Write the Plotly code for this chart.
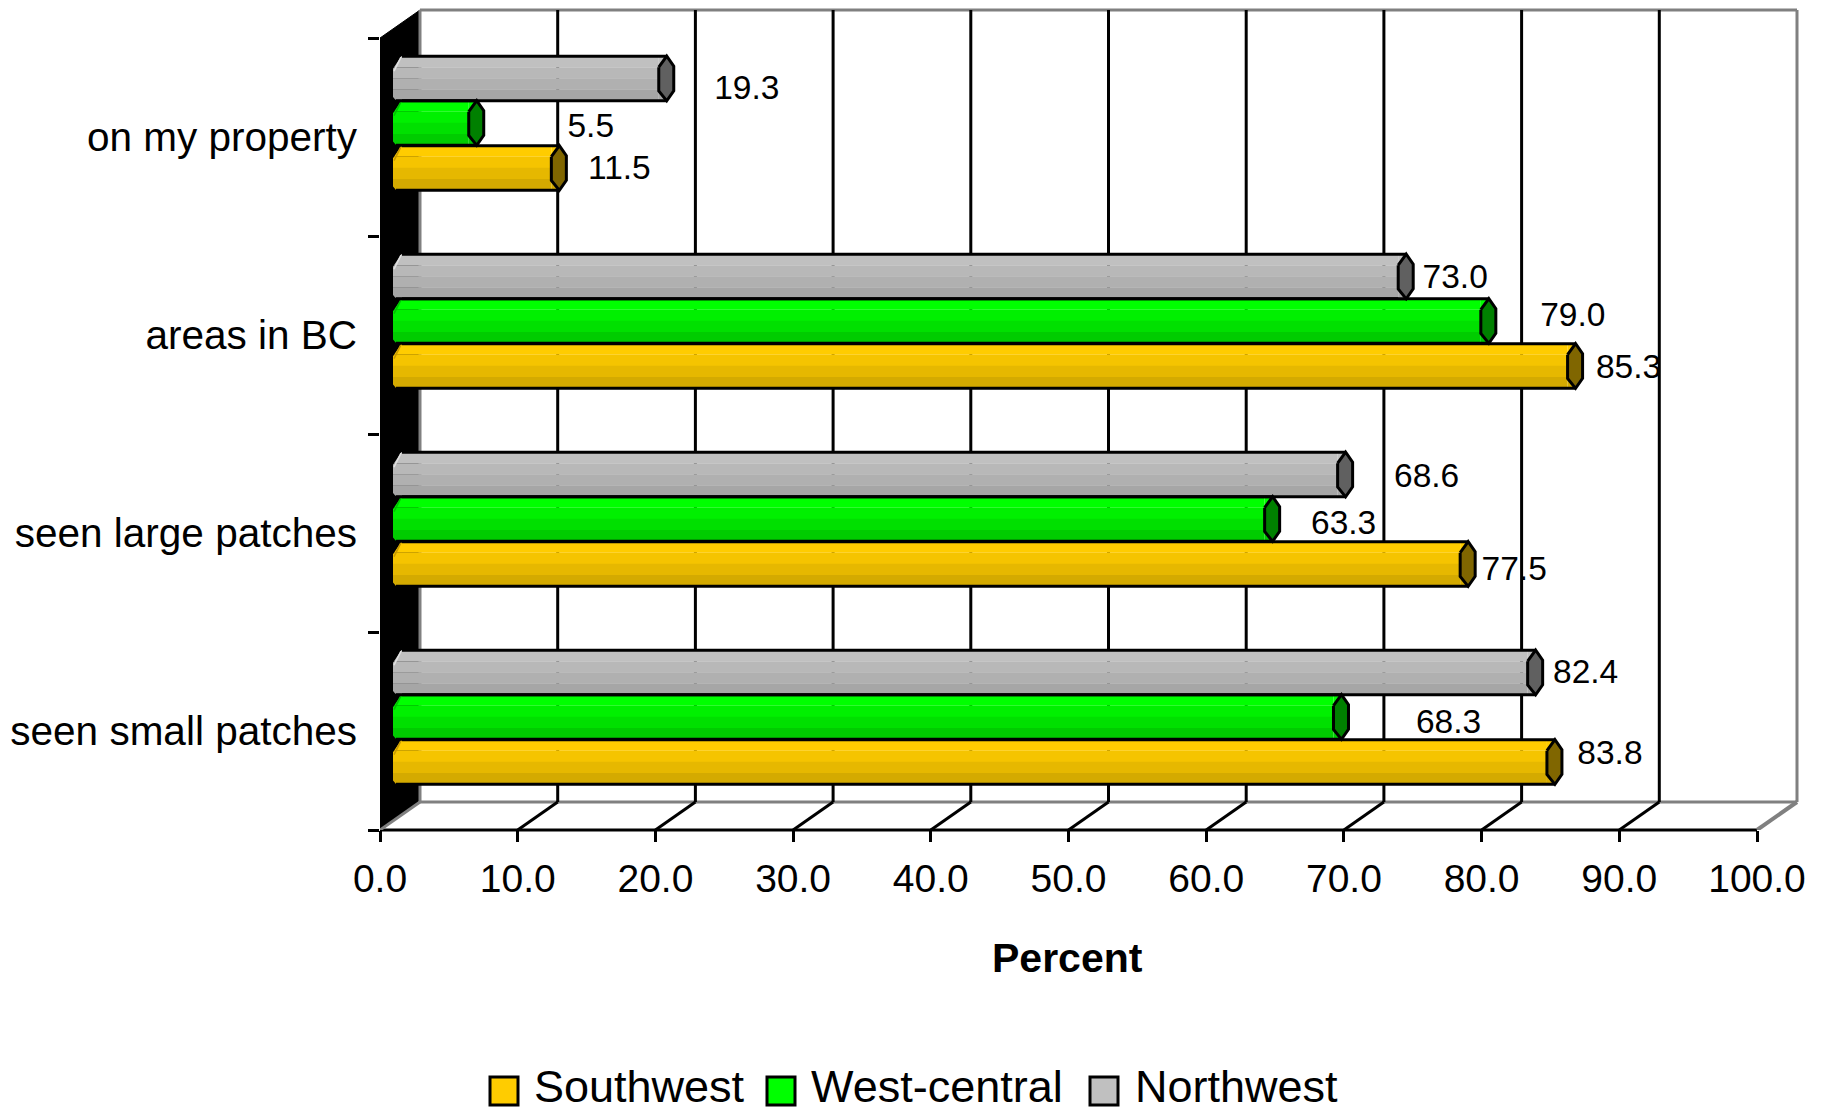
import plotly.graph_objects as go

categories = ["seen small patches", "seen large patches", "areas in BC", "on my property"]
southwest = [83.8, 77.5, 85.3, 11.5]
west_central = [68.3, 63.3, 79.0, 5.5]
northwest = [82.4, 68.6, 73.0, 19.3]
series_names = ["Southwest", "West-central", "Northwest"]

positions = list(range(len(categories)))
series_values = [southwest, west_central, northwest]

# ---- pixel geometry of the pseudo-3D frame ----
W, H = 1825, 1113
L, R, T, B = 380, 1803, 4, 830       # plot area in px (a little wider than the wall)
PX_PER_X = 13.77                     # px per percent
PX_PER_Y = 198.0                     # px per category
DEPTH_X, DEPTH_Y = 40, 28            # back wall offset
BAR_BASE_PX = 13
BAR_H_PX = 44.7
x_max = (R - L) / PX_PER_X
y_min, y_max = -0.5, -0.5 + (B - T) / PX_PER_Y
wall_top = 3.5 + DEPTH_Y / PX_PER_Y


def ux(px):
    return px / PX_PER_X


def uy(px):
    return px / PX_PER_Y


def paper_x(px):
    return (px - L) / (R - L)


def paper_y(px):
    return (B - px) / (B - T)


bx, by = ux(DEPTH_X), uy(DEPTH_Y)
base = ux(BAR_BASE_PX)

row_shift_px = [-31, 14, 58.5]       # bar centre above the category centre
stripes = [
    ["#FFCC00", "#F5C400", "#E6B800", "#D4AA00"],
    ["#00FF00", "#00F000", "#00E000", "#00CC00"],
    ["#C0C0C0", "#B8B8B8", "#B0B0B0", "#A6A6A6"],
]
cap_colors = ["#806600", "#008000", "#606060"]
edge_colors = ["#C89A00", "#00C000", "#E0E0E0"]
label_dx = [[63, 54, 61, 68], [115, 79, 92, 122], [58, 89, 57, 88]]
label_dy = [[6, -8, -4, -3], [-8, -7, 3, -6], [-2, -4, -3, -12]]

shapes = []


def seg(x0, y0, x1, y1, color, width):
    shapes.append(dict(type="line", xref="x", yref="y", x0=x0, y0=y0, x1=x1, y1=y1,
                       line=dict(color=color, width=width), layer="below"))


# left black wall
shapes.append(dict(type="path", xref="x", yref="y", layer="below",
                   path=f"M 0 {y_min} L {bx} {y_min + by} L {bx} {wall_top} L 0 {y_min + 4} Z",
                   fillcolor="#000000", line=dict(color="#000000", width=1)))
# back wall frame
seg(bx, y_min + by, bx, wall_top, "#808080", 3)
seg(bx, wall_top, 100 + bx, wall_top, "#808080", 3)
seg(100 + bx, wall_top, 100 + bx, y_min + by, "#808080", 3)
seg(bx, y_min + by, 100 + bx, y_min + by, "#808080", 3)
# grid + floor lines
for v in range(10, 100, 10):
    seg(v + bx, y_min + by, v + bx, wall_top, "#000000", 3)
    seg(v, y_min, v + bx, y_min + by, "#000000", 3)
seg(0, y_min, bx, y_min + by, "#808080", 3)
seg(100, y_min, 100 + bx, y_min + by, "#808080", 4)
# front axis line, not clipped by the plot area
shapes.append(dict(type="line", xref="paper", yref="paper", layer="below",
                   x0=paper_x(L), x1=paper_x(L + 100 * PX_PER_X), y0=0, y1=0,
                   line=dict(color="#000000", width=3)))

fig = go.Figure()

# striped bar bodies
for s, values in enumerate(series_values):
    n = len(stripes[s])
    for k, col in enumerate(stripes[s]):
        top_px = row_shift_px[s] + BAR_H_PX / 2 - k * BAR_H_PX / n
        fig.add_trace(go.Bar(
            orientation="h", y=positions, x=values, base=base,
            offset=uy(top_px - BAR_H_PX / n), width=uy(BAR_H_PX / n) + 0.001,
            marker=dict(color=col, line=dict(width=0)),
            showlegend=False, hoverinfo="skip"))

# caps, shoulders and outlines
for s, values in enumerate(series_values):
    sh_t_x, sh_t_y, sh_b_x, sh_b_y = [], [], [], []
    cap_x, cap_y = [], []
    out_x, out_y = [], []
    cut_x, cut_y = [], []
    edge_x, edge_y = [], []
    for p, v in zip(positions, values):
        end = base + v
        c = p + uy(row_shift_px[s])
        top, bot = c + uy(BAR_H_PX / 2), c - uy(BAR_H_PX / 2)
        sh_t_x += [end, end + ux(8), end, None]
        sh_t_y += [top, top, top - uy(11), None]
        sh_b_x += [end, end + ux(8), end, None]
        sh_b_y += [bot, bot, bot + uy(10), None]
        cap_x += [end, end + ux(8), end + ux(15), end + ux(15), end + ux(8), end, end, None]
        cap_y += [top - uy(11), top, top - uy(10), bot + uy(10), bot, bot + uy(10), top - uy(11), None]
        out_x += [base + ux(9), end + ux(8), None, base + ux(3), end + ux(8), None]
        out_y += [top, top, None, bot, bot, None]
        cut_x += [base - ux(1), base + ux(9), base - ux(1), None,
                  base - ux(1), base + ux(4), base - ux(1), None]
        cut_y += [top + uy(1), top + uy(1), top - uy(14), None,
                  bot - uy(1), bot - uy(1), bot + uy(5), None]
        edge_x += [base + ux(1), base + ux(8), None]
        edge_y += [top - uy(15), top - uy(1), None]
    common = dict(mode="lines", showlegend=False, hoverinfo="skip")
    fig.add_trace(go.Scatter(x=sh_t_x, y=sh_t_y, fill="toself", fillcolor=stripes[s][0],
                             line=dict(width=0), **common))
    fig.add_trace(go.Scatter(x=sh_b_x, y=sh_b_y, fill="toself", fillcolor=stripes[s][-1],
                             line=dict(width=0), **common))
    fig.add_trace(go.Scatter(x=cut_x, y=cut_y, fill="toself", fillcolor="#000000",
                             line=dict(width=0), **common))
    fig.add_trace(go.Scatter(x=edge_x, y=edge_y, line=dict(color=edge_colors[s], width=1.5), **common))
    fig.add_trace(go.Scatter(x=out_x, y=out_y, line=dict(color="#000000", width=3), **common))
    fig.add_trace(go.Scatter(x=cap_x, y=cap_y, fill="toself", fillcolor=cap_colors[s],
                             line=dict(color="#000000", width=3), **common))

# value labels
for s, values in enumerate(series_values):
    fig.add_trace(go.Scatter(
        x=[base + v + ux(d) for v, d in zip(values, label_dx[s])],
        y=[p + uy(row_shift_px[s] + d) for p, d in zip(positions, label_dy[s])],
        mode="text", text=[f"{v:.1f}" for v in values], textposition="middle center",
        textfont=dict(family="Liberation Sans", size=33.5, color="#000000"),
        cliponaxis=False, showlegend=False, hoverinfo="skip"))

# legend and axis title
swatch_px = [490, 767, 1090]
text_px = [532, 809, 1133]
annotations = [dict(xref="paper", yref="paper", x=paper_x(1067), y=paper_y(958),
                    xanchor="center", yanchor="middle", showarrow=False, text="<b>Percent</b>",
                    font=dict(family="Liberation Sans", size=41, color="#000000"))]
for name, sx, tx, col in zip(series_names, swatch_px, text_px, [st[0] for st in stripes]):
    shapes.append(dict(type="rect", xref="paper", yref="paper",
                       x0=paper_x(sx), x1=paper_x(sx + 28),
                       y0=paper_y(1077), y1=paper_y(1105),
                       fillcolor=col, line=dict(color="#000000", width=3)))
    annotations.append(dict(xref="paper", yref="paper", x=paper_x(tx), y=paper_y(1086),
                            xanchor="left", yanchor="middle", showarrow=False, text=name,
                            font=dict(family="Liberation Sans", size=45, color="#000000")))

fig.update_layout(
    width=W, height=H, margin=dict(l=L, r=W - R, t=T, b=H - B, pad=0),
    paper_bgcolor="#FFFFFF", plot_bgcolor="#FFFFFF", barmode="overlay",
    showlegend=False, shapes=shapes, annotations=annotations,
    xaxis=dict(range=[0, x_max], tickmode="array", tickvals=list(range(0, 101, 10)),
               ticktext=[f"{v:.1f}" for v in range(0, 101, 10)],
               ticks="outside", ticklen=11, tickwidth=3, tickcolor="#000000",
               showgrid=False, zeroline=False, showline=False, ticklabelstandoff=3,
               tickfont=dict(family="Liberation Sans", size=39, color="#000000")),
    yaxis=dict(range=[y_min, y_max], tickmode="array", tickvals=positions, ticktext=categories,
               ticks="", showgrid=False, zeroline=False, showline=False, ticklabelstandoff=22,
               tickfont=dict(family="Liberation Sans", size=40.5, color="#000000"),
               minor=dict(tickmode="array", tickvals=[-0.5, 0.5, 1.5, 2.5, 3.5], ticks="outside",
                          ticklen=11, tickwidth=3, tickcolor="#000000", showgrid=False)),
)

fig.write_html("out.html", config={"displayModeBar": False},
               post_script="document.body.style.margin='0';")
